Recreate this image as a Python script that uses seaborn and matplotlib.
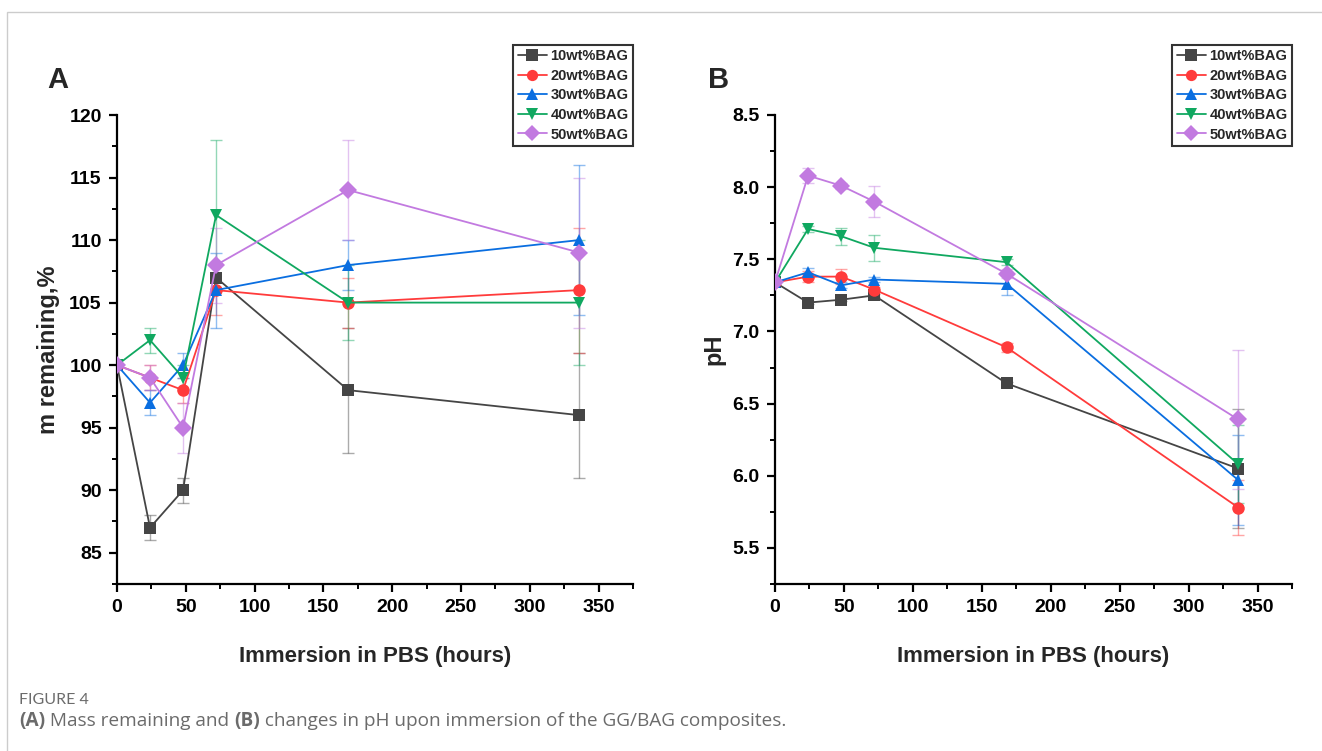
import numpy as np
import pandas as pd
import seaborn as sns
import matplotlib
matplotlib.use("Agg")
import matplotlib.pyplot as plt
from matplotlib.patches import Rectangle
from matplotlib.ticker import MultipleLocator

# ---------------- data ----------------
hours = [0, 24, 48, 72, 168, 336]
groups = ["10wt%BAG", "20wt%BAG", "30wt%BAG", "40wt%BAG", "50wt%BAG"]

mass_10 = [100, 87, 90, 107, 98, 96]
mass_20 = [100, 99, 98, 106, 105, 106]
mass_30 = [100, 97, 100, 106, 108, 110]
mass_40 = [100, 102, 99, 112, 105, 105]
mass_50 = [100, 99, 95, 108, 114, 109]

mass_err_10 = [0, 1, 1, 1, 5, 5]
mass_err_20 = [0, 1, 1, 2, 2, 5]
mass_err_30 = [0, 1, 1, 3, 2, 6]
mass_err_40 = [0, 1, 1, 6, 3, 5]
mass_err_50 = [0, 1, 2, 3, 4, 6]

ph_10 = [7.34, 7.20, 7.22, 7.25, 6.64, 6.05]
ph_20 = [7.34, 7.38, 7.38, 7.29, 6.89, 5.78]
ph_30 = [7.34, 7.41, 7.32, 7.36, 7.33, 5.97]
ph_40 = [7.34, 7.71, 7.66, 7.58, 7.48, 6.08]
ph_50 = [7.34, 8.08, 8.01, 7.90, 7.40, 6.39]

ph_err_10 = [0.0, 0.01, 0.01, 0.01, 0.01, 0.41]
ph_err_20 = [0.0, 0.04, 0.05, 0.02, 0.03, 0.19]
ph_err_30 = [0.0, 0.03, 0.02, 0.02, 0.08, 0.31]
ph_err_40 = [0.0, 0.02, 0.06, 0.09, 0.02, 0.27]
ph_err_50 = [0.0, 0.05, 0.02, 0.11, 0.03, 0.48]

mass_vals = [mass_10, mass_20, mass_30, mass_40, mass_50]
mass_errs = [mass_err_10, mass_err_20, mass_err_30, mass_err_40, mass_err_50]
ph_vals = [ph_10, ph_20, ph_30, ph_40, ph_50]
ph_errs = [ph_err_10, ph_err_20, ph_err_30, ph_err_40, ph_err_50]

colors = ["#454545", "#ff3b3b", "#0a6ee0", "#10a860", "#c27ae0"]
markers = ["s", "o", "^", "v", "D"]


def long_df(vals, errs):
    rows = []
    for g, v, e in zip(groups, vals, errs):
        for h, y, err in zip(hours, v, e):
            rows.append({"hours": h, "value": y, "err": err, "group": g})
    return pd.DataFrame(rows)


df_mass = long_df(mass_vals, mass_errs)
df_ph = long_df(ph_vals, ph_errs)

# ---------------- style ----------------
sns.set_theme(style="ticks")
plt.rcParams["font.family"] = ["Liberation Sans", "DejaVu Sans"]
plt.rcParams["font.weight"] = "bold"

W, H = 1322, 751
fig = plt.figure(figsize=(W / 100, H / 100), dpi=100)

# light frame around the figure content
fig.patches.append(Rectangle((7 / W, -0.05), 1.2, 1 - 12 / H + 0.05,
                             transform=fig.transFigure, fill=False,
                             edgecolor="#cccccc", linewidth=1.0))

axA = fig.add_axes([117 / W, (H - 584) / H, 516 / W, 469 / H])
axB = fig.add_axes([775 / W, (H - 584) / H, 517 / W, 469 / H])

pal = dict(zip(groups, colors))
mk = dict(zip(groups, markers))


def draw(ax, df):
    for g, c in zip(groups, colors):
        sub = df[df["group"] == g]
        ax.errorbar(sub["hours"], sub["value"], yerr=sub["err"], fmt="none",
                    ecolor=c, alpha=0.45, elinewidth=1.0, capsize=4, capthick=1.0,
                    zorder=1)
    sns.lineplot(data=df, x="hours", y="value", hue="group", style="group",
                 palette=pal, markers=mk, dashes=False, markersize=9,
                 markeredgewidth=0, linewidth=1.3, ax=ax, legend=True,
                 zorder=3)
    ax.set_xlim(0, 375)
    ax.xaxis.set_major_locator(MultipleLocator(50))
    ax.xaxis.set_minor_locator(MultipleLocator(25))
    for s in ["top", "right"]:
        ax.spines[s].set_visible(False)
    for s in ["left", "bottom"]:
        ax.spines[s].set_linewidth(1.6)
        ax.spines[s].set_color("black")
    ax.tick_params(which="major", direction="out", length=6, width=1.6,
                   labelsize=14, colors="black", pad=5)
    ax.tick_params(which="minor", direction="out", length=3.5, width=1.4,
                   colors="black")
    for lbl in ax.get_xticklabels() + ax.get_yticklabels():
        lbl.set_fontweight("bold")
    ax.set_xlabel("Immersion in PBS (hours)", fontsize=16, fontweight="bold")
    ax.xaxis.set_label_coords(0.5, -0.132)
    leg = ax.legend(loc="upper right", bbox_to_anchor=(1.0, (584 - 45) / 469),
                    frameon=True, fancybox=False, edgecolor="black",
                    prop={"weight": "bold", "size": 10.5}, handlelength=2.0,
                    handletextpad=0.25, borderpad=0.3, labelspacing=0.38,
                    borderaxespad=0.0, markerscale=0.9)
    leg.get_frame().set_linewidth(1.5)
    for h in leg.legend_handles:
        try:
            h.set_markeredgewidth(0)
        except Exception:
            pass


draw(axA, df_mass)
axA.set_ylim(82.5, 120)
axA.yaxis.set_major_locator(MultipleLocator(5))
axA.yaxis.set_minor_locator(MultipleLocator(2.5))
axA.set_ylabel("m remaining,%", fontsize=17, fontweight="bold")
axA.yaxis.set_label_coords(-0.11, 0.5)

draw(axB, df_ph)
axB.set_ylim(5.25, 8.5)
axB.yaxis.set_major_locator(MultipleLocator(0.5))
axB.yaxis.set_minor_locator(MultipleLocator(0.25))
axB.yaxis.set_major_formatter(matplotlib.ticker.FormatStrFormatter("%.1f"))
axB.set_ylabel("pH", fontsize=17, fontweight="bold")
axB.yaxis.set_label_coords(-0.095, 0.5)
for lbl in axB.get_yticklabels():
    lbl.set_fontweight("bold")

fig.text(47 / W, 1 - 80 / H, "A", fontsize=21, fontweight="bold", va="center",
         ha="left")
fig.text(708 / W, 1 - 80 / H, "B", fontsize=21, fontweight="bold", va="center",
         ha="left")

# caption
cap_font = ["Open Sans", "DejaVu Sans"]
fig.text(19 / W, 1 - 700 / H, "FIGURE 4", fontsize=11.5, color="#6b6b6b",
         va="center", ha="left", family=["Lato", "DejaVu Sans"],
         fontweight="normal")

renderer = fig.canvas.get_renderer()
x = 19
parts = [("(A)", "bold"), (" Mass remaining and ", "normal"), ("(B)", "bold"),
         (" changes in pH upon immersion of the GG/BAG composites.", "normal")]
for txt, wt in parts:
    t = fig.text(x / W, 1 - 721 / H, txt, fontsize=13.7, color="#6b6b6b",
                 va="center", ha="left", family=cap_font, fontweight=wt)
    bb = t.get_window_extent(renderer=renderer)
    x += bb.width

fig.savefig("out.png", dpi=100)
